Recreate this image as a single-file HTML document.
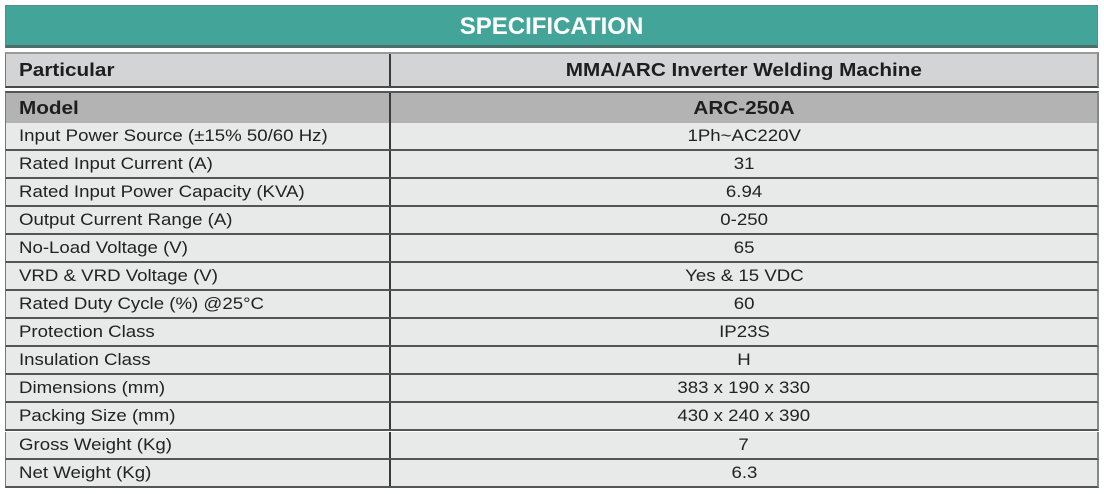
<!DOCTYPE html>
<html>
<head>
<meta charset="utf-8">
<style>
html,body{margin:0;padding:0;background:#fff;}
body{width:1104px;height:494px;position:relative;overflow:hidden;font-family:"Liberation Sans",Arial,sans-serif;}
.hdr{position:absolute;left:5px;top:5px;width:1091px;height:39px;background:#43a599;border:1px solid #5d8a84;border-bottom:3px solid #4d6f6a;}
.hdr span{position:absolute;left:0;right:0;top:0;height:39px;line-height:41px;text-align:center;color:#fff;font-weight:bold;font-size:24px;}
.row{position:absolute;left:5px;width:1091px;border-left:1px solid #777;border-right:2px solid #888;}
.row .l,.row .r{position:absolute;top:0;bottom:0;display:flex;align-items:center;}
.row .l{left:0;width:383px;padding-left:13px;box-sizing:border-box;}
.row .r{left:385px;right:0;justify-content:center;}
.row .div{position:absolute;left:383px;top:0;bottom:0;width:2px;background:#3a3a3a;}
.b{font-weight:bold;font-size:18px;color:#1e1e1e;display:inline-block;transform:scaleX(1.15);}
.n{font-size:16.5px;color:#222;display:inline-block;transform:scaleX(1.13);}
.l .b,.l .n{transform-origin:left center;}
.r .b,.r .n{transform-origin:center center;}
.p{top:52px;height:32px;background:#d3d4d5;border-top:2px solid #9a9a9a;border-bottom:2px solid #4a4a4a;}
.m{top:91px;height:30px;background:#b3b3b3;border-top:2px solid #555;border-bottom:2px solid #4a4a4a;}
.d{height:26px;background:#e8e9e9;border-bottom:2px solid #555;}
</style>
</head>
<body>
<div class="hdr"><span>SPECIFICATION</span></div>

<div class="row p"><div class="l"><span class="b">Particular</span></div><div class="div"></div><div class="r"><span class="b">MMA/ARC Inverter Welding Machine</span></div></div>

<div class="row m"><div class="l"><span class="b">Model</span></div><div class="div"></div><div class="r"><span class="b">ARC-250A</span></div></div>

<div class="row d" style="top:123px"><div class="l"><span class="n">Input Power Source (±15% 50/60 Hz)</span></div><div class="div"></div><div class="r"><span class="n">1Ph~AC220V</span></div></div>
<div class="row d" style="top:151px"><div class="l"><span class="n">Rated Input Current (A)</span></div><div class="div"></div><div class="r"><span class="n">31</span></div></div>
<div class="row d" style="top:179px"><div class="l"><span class="n">Rated Input Power Capacity (KVA)</span></div><div class="div"></div><div class="r"><span class="n">6.94</span></div></div>
<div class="row d" style="top:207px"><div class="l"><span class="n">Output Current Range (A)</span></div><div class="div"></div><div class="r"><span class="n">0-250</span></div></div>
<div class="row d" style="top:235px"><div class="l"><span class="n">No-Load Voltage (V)</span></div><div class="div"></div><div class="r"><span class="n">65</span></div></div>
<div class="row d" style="top:263px"><div class="l"><span class="n">VRD &amp; VRD Voltage (V)</span></div><div class="div"></div><div class="r"><span class="n">Yes &amp; 15 VDC</span></div></div>
<div class="row d" style="top:291px"><div class="l"><span class="n">Rated Duty Cycle (%) @25°C</span></div><div class="div"></div><div class="r"><span class="n">60</span></div></div>
<div class="row d" style="top:319px"><div class="l"><span class="n">Protection Class</span></div><div class="div"></div><div class="r"><span class="n">IP23S</span></div></div>
<div class="row d" style="top:347px"><div class="l"><span class="n">Insulation Class</span></div><div class="div"></div><div class="r"><span class="n">H</span></div></div>
<div class="row d" style="top:375px"><div class="l"><span class="n">Dimensions (mm)</span></div><div class="div"></div><div class="r"><span class="n">383 x 190 x 330</span></div></div>
<div class="row d" style="top:403px"><div class="l"><span class="n">Packing Size (mm)</span></div><div class="div"></div><div class="r"><span class="n">430 x 240 x 390</span></div></div>
<div class="row d" style="top:432px"><div class="l"><span class="n">Gross Weight (Kg)</span></div><div class="div"></div><div class="r"><span class="n">7</span></div></div>
<div class="row d" style="top:460px"><div class="l"><span class="n">Net Weight (Kg)</span></div><div class="div"></div><div class="r"><span class="n">6.3</span></div></div>
</body>
</html>
